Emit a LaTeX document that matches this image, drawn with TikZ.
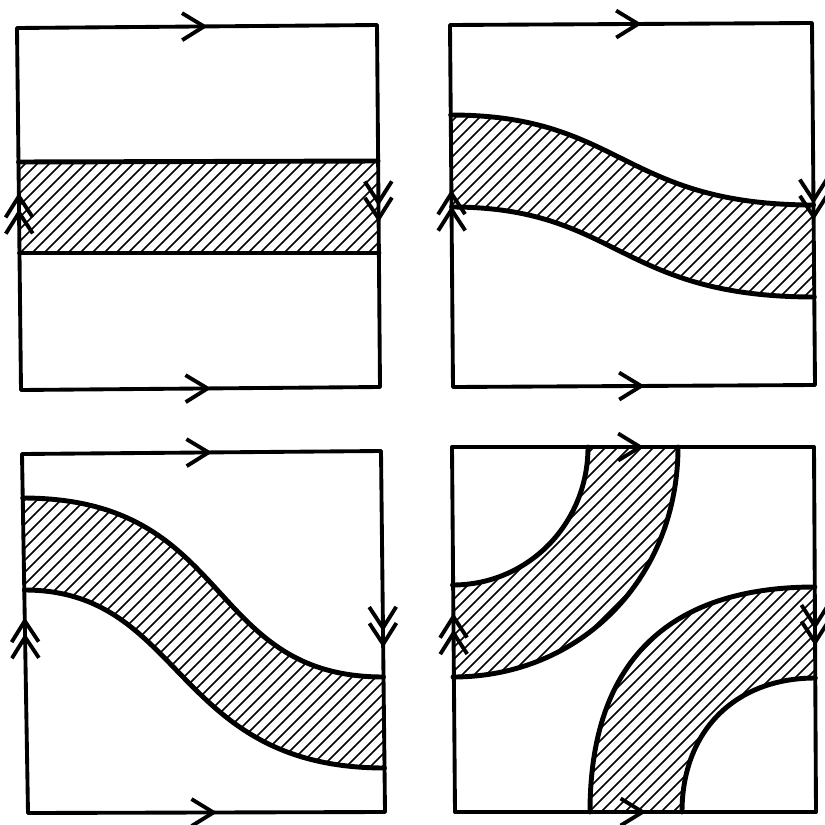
\documentclass[tikz,border=0pt]{standalone}
\usepackage{tikz}
\usetikzlibrary{arrows.meta,decorations.markings}

\tikzset{
  sqedge/.style={line width=2.2pt, line cap=round, line join=round},
  rim/.style={line width=2.8pt, line cap=round},
  hatch/.style={line width=0.9pt},
  fwd/.style={postaction={decorate}, decoration={markings,
      mark=at position 0.53 with {\arrow{Straight Barb[length=4.4mm,width=5.4mm]}}}},
  twice/.style={postaction={decorate}, decoration={markings,
      mark=at position 0.50 with {\arrow{Straight Barb[length=4.2mm,width=5.4mm]}},
      mark=at position 0.545 with {\arrow{Straight Barb[length=4.2mm,width=5.4mm]}}}}
}

% square with its glued sides: single arrows top/bottom, double arrows left/right
\newcommand{\torusframe}[4]{%
  \draw[sqedge, fwd] (#1) -- (#2);
  \draw[sqedge, fwd] (#4) -- (#3);
  \draw[sqedge, twice] (#4) -- (#1);
  \draw[sqedge, twice] (#2) -- (#3);
}
\newcommand{\hatchfill}{%
  \foreach \s in {-828,-816,...,828} \draw[hatch] (\s,825) -- ++(825,-825);
}

\begin{document}
\begin{tikzpicture}[x=0.02cm, y=-0.02cm]
\useasboundingbox (0,0) rectangle (825,825);
\fill[white] (0,0) rectangle (825,825);

% corners
\coordinate (a1) at (17,28);  \coordinate (a2) at (377,25);
\coordinate (a3) at (380,387); \coordinate (a4) at (21,390);
\coordinate (b1) at (450,25); \coordinate (b2) at (812,23);
\coordinate (b3) at (815,385); \coordinate (b4) at (453,387);
\coordinate (c1) at (22,454); \coordinate (c2) at (381,451);
\coordinate (c3) at (385,812); \coordinate (c4) at (28,813);
\coordinate (d1) at (452,447); \coordinate (d2) at (814,447);
\coordinate (d3) at (816,812); \coordinate (d4) at (455,812);

% top left: straight band
\coordinate (aTL) at (18.5,162); \coordinate (aTR) at (378,161);
\coordinate (aBR) at (379,253); \coordinate (aBL) at (19.5,253);
\begin{scope}
  \clip (aTL) -- (aTR) -- (aBR) -- (aBL) -- cycle;
  \hatchfill
\end{scope}
\draw[rim] (aTL) -- (aTR);
\draw[rim] (aBL) -- (aBR);

% top right: gentle S band
\coordinate (bTL) at (450.7,115); \coordinate (bTR) at (813.5,205);
\coordinate (bBL) at (451.5,207); \coordinate (bBR) at (814.3,297);
\begin{scope}
  \clip (bTL) .. controls (622,115) and (622,205) .. (bTR) -- (bBR)
        .. controls (618,297) and (618,207) .. (bBL) -- cycle;
  \hatchfill
\end{scope}
\draw[rim] (bTL) .. controls (622,115) and (622,205) .. (bTR);
\draw[rim] (bBL) .. controls (618,207) and (618,297) .. (bBR);

% bottom left: steep S band
\coordinate (cTL) at (22.7,498); \coordinate (cTR) at (383.5,677);
\coordinate (cBL) at (24.3,590); \coordinate (cBR) at (384.5,768);
\begin{scope}
  \clip (cTL) .. controls (235,498) and (203,677) .. (cTR) -- (cBR)
        .. controls (172,768) and (185,590) .. (cBL) -- cycle;
  \hatchfill
\end{scope}
\draw[rim] (cTL) .. controls (235,498) and (203,677) .. (cTR);
\draw[rim] (cBL) .. controls (185,590) and (172,768) .. (cBR);

% bottom right: two quarter rings at opposite corners
\coordinate (dUi) at (588,447); \coordinate (dLi) at (452.5,585);
\coordinate (dUo) at (678,447); \coordinate (dLo) at (453,677);
\coordinate (dBo) at (590,812); \coordinate (dRo) at (814.8,587);
\coordinate (dBi) at (682,812); \coordinate (dRi) at (815.3,678);
\begin{scope}
  \clip (dUi) .. controls (588,524) and (528,585) .. (dLi) -- (dLo)
        .. controls (581,677) and (678,578) .. (dUo) -- cycle;
  \hatchfill
\end{scope}
\begin{scope}
  \clip (dBo) .. controls (590,663) and (667,587) .. (dRo) -- (dRi)
        .. controls (735,678) and (682,731) .. (dBi) -- cycle;
  \hatchfill
\end{scope}
\draw[rim] (dUi) .. controls (588,524) and (528,585) .. (dLi);
\draw[rim] (dUo) .. controls (678,578) and (581,677) .. (dLo);
\draw[rim] (dBo) .. controls (590,663) and (667,587) .. (dRo);
\draw[rim] (dBi) .. controls (682,731) and (735,678) .. (dRi);

% frames
\torusframe{a1}{a2}{a3}{a4}
\torusframe{b1}{b2}{b3}{b4}
\torusframe{c1}{c2}{c3}{c4}
\torusframe{d1}{d2}{d3}{d4}
\end{tikzpicture}
\end{document}
